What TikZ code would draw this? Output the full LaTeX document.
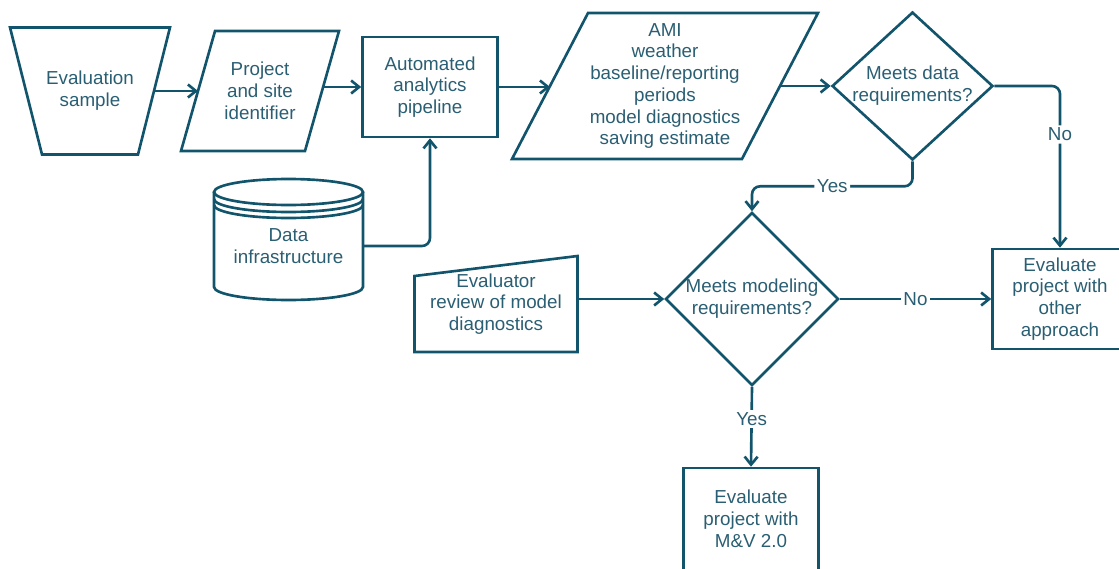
\documentclass[tikz,border=0pt]{standalone}
\usepackage{fontspec}
\setmainfont{Liberation Sans}
\usetikzlibrary{shapes.geometric,arrows.meta,calc}
\definecolor{flow}{RGB}{18,84,108}
\definecolor{flowtext}{RGB}{42,94,114}

\begin{document}
\begin{tikzpicture}[x=0.02cm,y=-0.02cm,line width=1.5pt,color=flow,text=flowtext,
  font=\fontsize{10.7}{12.4}\selectfont,
  box/.style={align=center,inner sep=0pt,outer sep=0pt},
  proc/.style={draw,align=center,minimum width=2.7cm,minimum height=2cm},
  decide/.style={diamond,draw,align=center,inner sep=-4pt},
  arr/.style={-{Straight Barb[length=0.16cm,width=0.26cm]}},
  lbl/.style={fill=white,inner sep=1.5pt}]
\useasboundingbox (0,0) rectangle (1119,568);
\clip (0,0) rectangle (1119,568);

\node[box,minimum width=2.56cm,minimum height=2.54cm] (sample) at (90,91) {Evaluation\\sample};
\draw ($(sample.north west)+(-16,0)$) -- ($(sample.north east)+(16,0)$) -- ($(sample.south east)+(-16,0)$) -- ($(sample.south west)+(16,0)$) -- cycle;

\node[box,minimum width=2.48cm,minimum height=2.4cm] (ident) at (260,91) {Project\\and site\\identifier};
\draw ($(ident.north west)+(17,0)$) -- ($(ident.north east)+(17,0)$) -- ($(ident.south east)+(-17,0)$) -- ($(ident.south west)+(-17,0)$) -- cycle;

\node[proc] (pipeline) at (430,87) {Automated\\analytics\\pipeline};

\node[box,minimum width=4.6cm,minimum height=2.92cm] (ami) at (665,86) {AMI\\weather\\baseline/reporting\\periods\\model diagnostics\\saving estimate};
\draw ($(ami.north west)+(38,0)$) -- ($(ami.north east)+(38,0)$) -- ($(ami.south east)+(-38,0)$) -- ($(ami.south west)+(-38,0)$) -- cycle;

\node[decide,minimum width=3.22cm,minimum height=2.96cm] (dd) at (912.5,86) {Meets data\\requirements?};

\node[box,minimum width=2.98cm,minimum height=1.6cm] (data) at (288.5,246) {Data\\infrastructure};
\draw (214,192) -- (214,287) arc[start angle=180,end angle=360,x radius=1.49cm,y radius=0.26cm] -- (363,192);
\draw (288.5,192) ellipse [x radius=1.49cm,y radius=0.26cm];
\draw (214,199) arc[start angle=180,end angle=360,x radius=1.49cm,y radius=0.26cm];
\draw (214,205) arc[start angle=180,end angle=360,x radius=1.49cm,y radius=0.26cm];

\node[box,minimum width=3.26cm,minimum height=1.92cm] (review) at (496,304) {Evaluator\\review of model\\diagnostics};
\draw ($(review.north west)+(0,20)$) -- (review.north east) -- (review.south east) -- (review.south west) -- cycle;

\node[decide,minimum width=3.46cm,minimum height=3.46cm] (mm) at (752,299) {Meets modeling\\requirements?};
\node[proc] (other) at (1060,299) {Evaluate\\project with\\other\\approach};
\node[proc,minimum height=2.04cm] (mv) at (751,519) {Evaluate\\project with\\M\&V 2.0};

\draw[arr] (sample.east) -- (ident.west);
\draw[arr] (pipeline.west -| ident.east) -- (pipeline.west);
\draw[arr] (pipeline.east) -- (pipeline.east -| ami.west);
\draw[arr] (ami.east) -- (dd.west);
\draw[arr,rounded corners=0.16cm] (data.east) -| (pipeline.south);
\draw[arr,rounded corners=0.16cm] (dd.south) -- ++(0,25) -| node[pos=0.25,lbl]{Yes} (mm.north);
\draw[arr,rounded corners=0.16cm] (dd.east) -| node[pos=0.65,lbl]{No} (other.north);
\draw[arr] (mm.west -| review.east) -- (mm.west);
\draw[arr] (mm.east) -- node[lbl]{No} (other.west);
\draw[arr] (mm.south) -- node[pos=0.4,lbl]{Yes} (mv.north);
\end{tikzpicture}
\end{document}
